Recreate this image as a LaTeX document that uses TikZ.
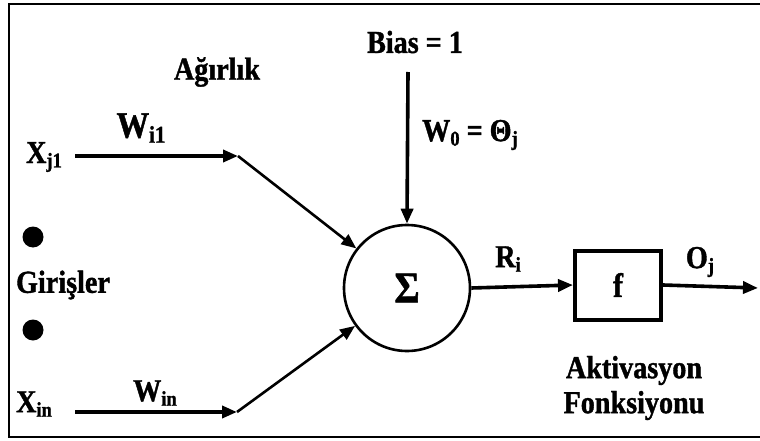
\documentclass[tikz,border=0pt]{standalone}
\usepackage{fontspec}
\setmainfont{Liberation Serif}
\newfontfamily\lblfont[FakeStretch=0.88,FakeBold=1.2]{Liberation Serif}
\usetikzlibrary{arrows.meta}
\newcommand{\mysub}[1]{\raisebox{-0.14em}{\fontsize{21}{21}\selectfont #1}}
\newcommand{\mybigsub}[1]{\raisebox{-0.14em}{\fontsize{24}{24}\selectfont #1}}
\tikzset{
  x=1pt, y=-1pt,
  lbl/.style={font=\lblfont\bfseries\fontsize{32}{35}\selectfont, inner sep=0pt, align=center},
  arr/.style={line width=3.6pt, -{Triangle[length=15pt,width=12pt]}},
  diag/.style={line width=2.6pt, -{Triangle[length=15pt,width=12pt]}},
  dotmark/.style={circle, fill=black, minimum size=21pt, inner sep=0pt}
}
\begin{document}
\begin{tikzpicture}
\useasboundingbox (0,0) rectangle (760,441);
\draw[line width=2pt] (760,4) -- (9,4) -- (9,437) -- (760,437);

% labels
\node[lbl] (agirlik) at (217,72) {Ağırlık};
\node[lbl] (bias) at (415,42) {Bias = 1};
\node[lbl, font=\lblfont\bfseries\fontsize{37}{40}\selectfont] (wi1) at (141,128) {W\mybigsub{i1}};
\node[lbl] (xj1) at (44,157) {X\mysub{j1}};
\node[lbl] (w0) at (470,135) {W\mysub{0} = Θ\mysub{j}};
\node[lbl] (giris) at (63,285) {Girişler};
\node[lbl] (xin) at (34,404) {X\mysub{in}};
\node[lbl] (win) at (155,393) {W\mysub{in}};
\node[lbl] (ri) at (508,259) {R\mysub{i}};
\node[lbl] (oj) at (700,262) {O\mysub{j}};
\node[lbl] (akt) at (634,388) {Aktivasyon\\Fonksiyonu};

\node[dotmark] (d1) at (33,237) {};
\node[dotmark] (d2) at (33,330) {};

% neuron
\node[circle, draw, line width=2.6pt, minimum size=126pt, inner sep=0pt, font=\lblfont\bfseries\fontsize{44}{44}\selectfont] (sum) at (407,288) {Σ};
\node[draw, line width=4pt, minimum width=86pt, minimum height=69pt, inner sep=0pt, font=\lblfont\bfseries\fontsize{34}{34}\selectfont] (f) at (618,285) {f};

% coordinates
\coordinate (s1) at (75,156);
\coordinate (k1) at (238,156);
\coordinate (s2) at (75,412);
\coordinate (k2) at (237,412);
\coordinate (bs) at (408,72);
\coordinate (out) at (758,288);

% connectors
\draw[arr] (s1) -- (k1);
\draw[diag] (k1) -- (sum);
\draw[arr] (s2) -- (k2);
\draw[diag] (k2) -- (sum);
\draw[arr] (bs) -- (sum.north);
\draw[arr] (sum.east) -- (f.west);
\draw[arr] (f.east) -- (out);
\end{tikzpicture}
\end{document}
